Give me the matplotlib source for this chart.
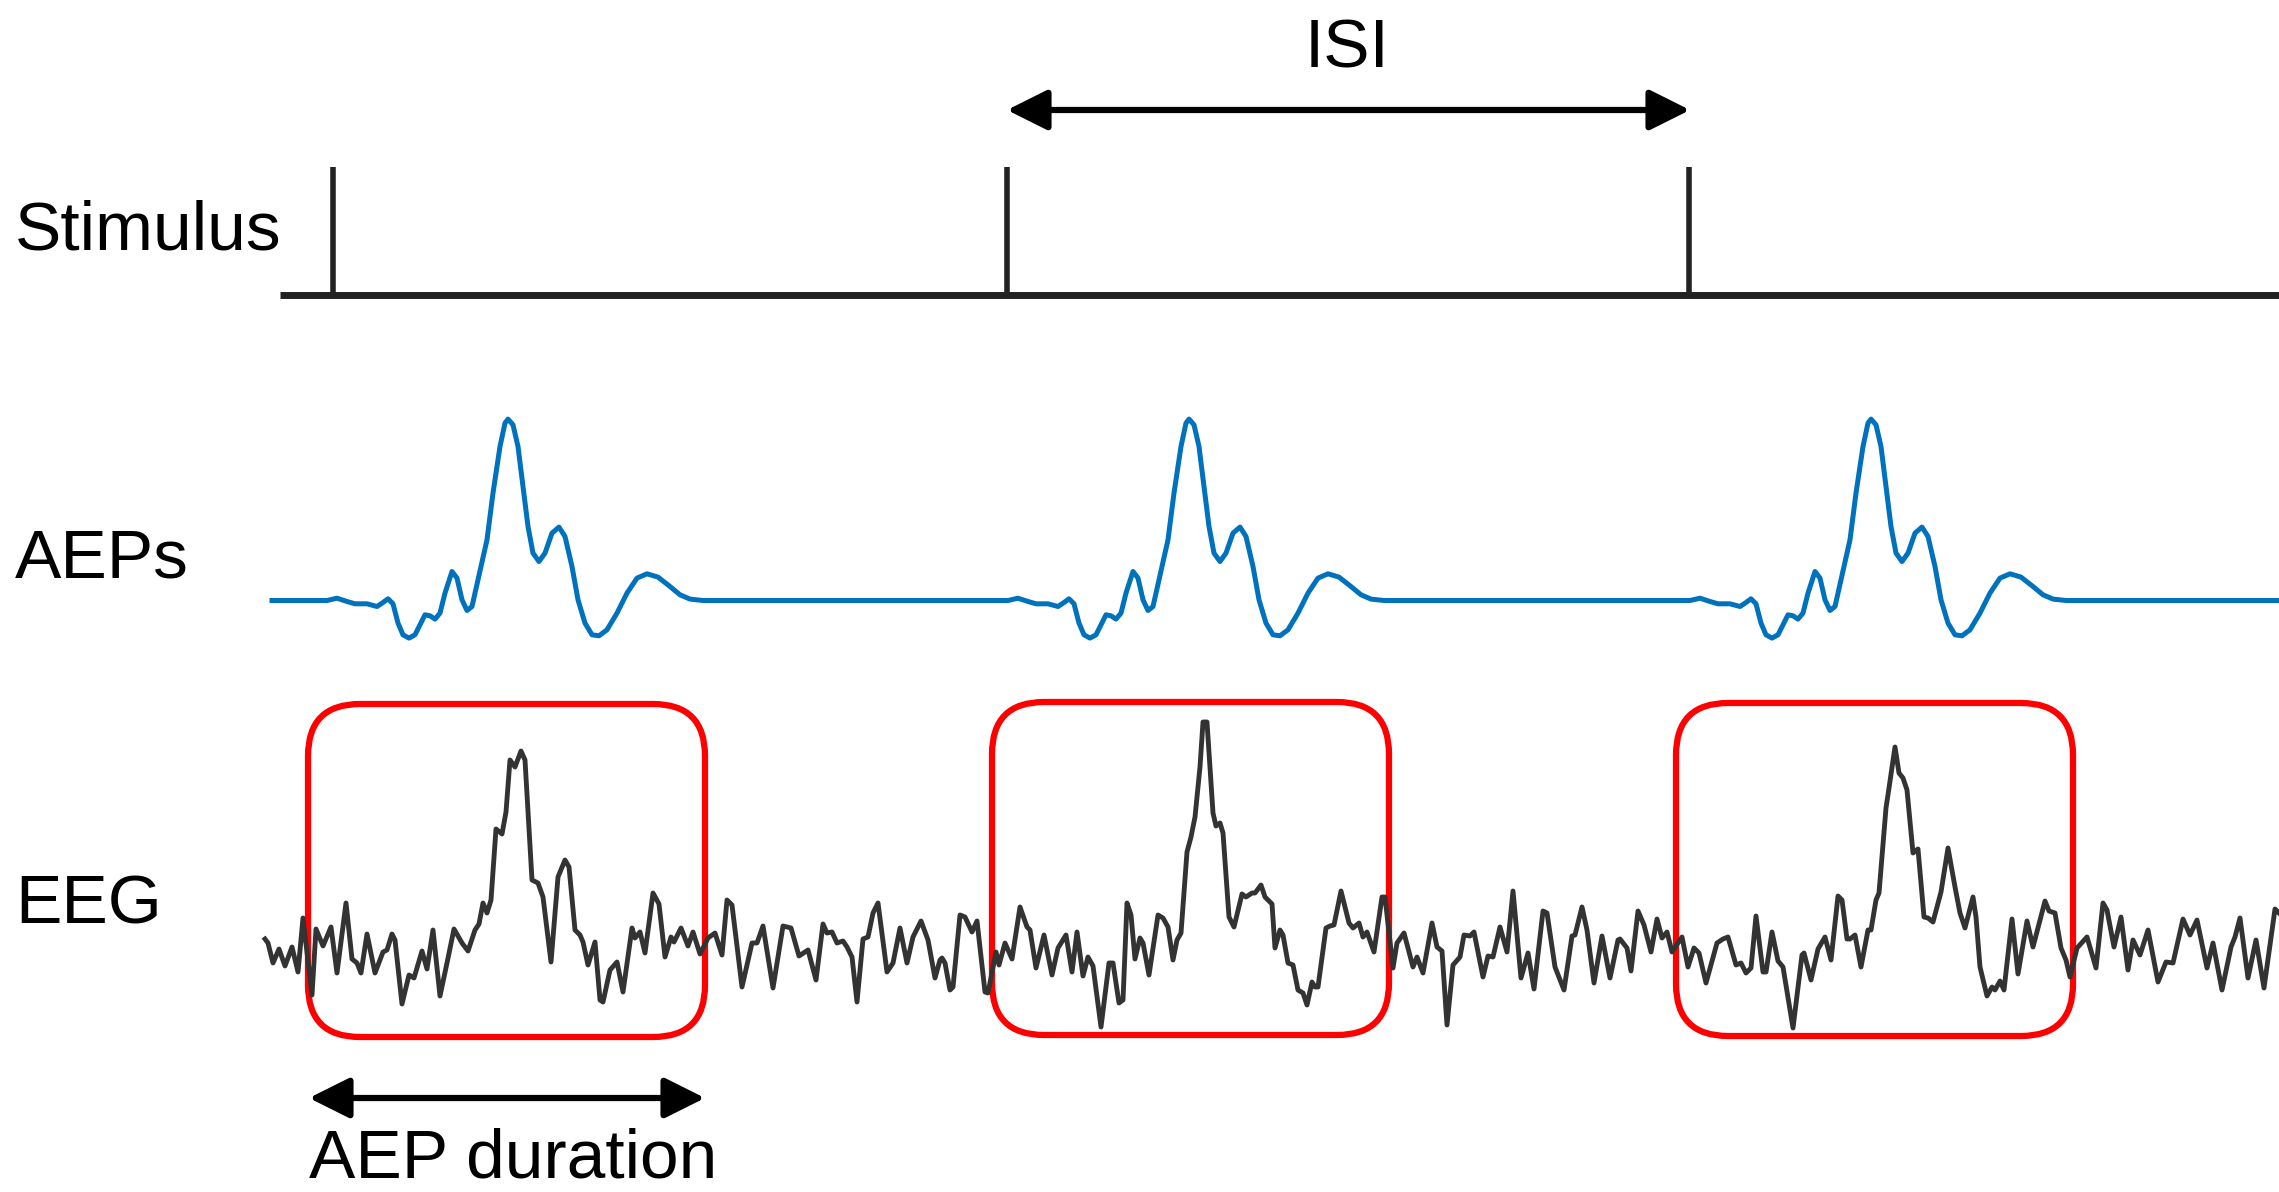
import numpy as np
import matplotlib.pyplot as plt
from matplotlib.patches import FancyBboxPatch, ArrowStyle

plt.rcParams['font.family'] = ['Liberation Sans', 'DejaVu Sans']

# canvas in pixel units, y grows downwards
W, H = 2279, 1192

row_labels = ['Stimulus', 'AEPs', 'EEG']
label_y = [250, 578, 924]

# stimulus onsets (px)
stim_times = [333, 1007, 1689]

# AEP template: time from onset (px) and amplitude (px, up positive)
aep_onsets = [333, 1014, 1696]
aep_t = [-6, 4, 14, 22, 34, 44, 50, 55, 60, 65, 70, 76, 82, 87, 92, 97, 102, 107,
         112, 119, 124, 129, 134, 139, 145, 154, 160, 167, 172, 175, 180, 185, 190,
         195, 200, 206, 212, 219, 226, 232, 239, 245, 252, 259, 266, 274, 284, 294,
         304, 314, 325, 337, 347, 357, 370]
aep_v = [0, 2.3, -1, -3.3, -3.3, -6, -2, 1.7, -3.3, -22.6, -34.3, -37.6, -34.3, -24.3,
         -14.3, -15.3, -18.6, -12.6, 7.4, 29, 22.4, 0.7, -10, -6, 20.7, 60.7, 107.4,
         154, 177.4, 181.4, 175.7, 154, 114, 74, 47.4, 39, 47.4, 67.4, 73.4, 64, 34,
         0.7, -22.6, -34.3, -35.3, -29.3, -12.6, 7.4, 22.4, 26.7, 23.4, 14, 5.7, 1.4, 0]

# EEG trace (px)
eeg_x = [265, 268, 273, 279, 285, 292, 298, 303, 312, 316, 323, 331, 337, 346, 352, 357,
         361, 367, 375, 383, 387, 392, 395, 402, 409, 414, 422, 427, 433, 440, 447, 454,
         462, 468, 475, 479, 483, 487, 491, 496, 502, 506, 510, 515, 521, 525, 532, 538,
         543, 551, 558, 565, 569, 575, 580, 583, 588, 595, 600,
         603, 610, 617, 623, 632, 635, 640, 645, 653, 659, 665, 671, 674, 681, 688, 693,
         700, 708, 715, 722, 727, 732, 742, 752, 757, 763, 773, 783, 791, 799, 808, 816,
         823, 827, 832, 837, 843, 847, 852, 857, 863, 868, 873, 878, 887, 893, 900, 907,
         913, 921, 928, 935, 940,
         942, 945, 950, 953, 960, 965, 972, 977, 985, 988, 996, 999, 1005, 1012, 1020,
         1027, 1030, 1036, 1044, 1052, 1058, 1066, 1072, 1077, 1083, 1088, 1093, 1101,
         1109, 1113, 1119, 1123, 1127, 1131, 1135, 1140, 1143, 1149, 1158, 1163, 1168,
         1173, 1177, 1181, 1187, 1191, 1195, 1200, 1203, 1207, 1210, 1213, 1216, 1220,
         1223, 1229, 1234, 1242, 1246, 1252, 1255, 1261, 1265, 1268, 1272, 1275, 1280,
         1283, 1288, 1293, 1298, 1303, 1307, 1312, 1315, 1318, 1326, 1330, 1334, 1341,
         1349, 1353, 1359, 1363, 1367, 1374, 1382, 1385, 1393, 1397, 1404, 1413, 1417,
         1423, 1432, 1437, 1442, 1447, 1453, 1460, 1464, 1470, 1474, 1483, 1488, 1493,
         1500, 1507, 1513, 1521, 1528, 1534, 1543, 1547, 1555, 1564, 1572, 1575, 1582,
         1587, 1594, 1602, 1610, 1618,
         1620, 1627, 1631, 1638, 1644, 1651, 1657, 1662, 1667, 1672, 1682, 1688, 1694,
         1699, 1706, 1717, 1723, 1728, 1736, 1741, 1746, 1751, 1756, 1763, 1766, 1772,
         1778, 1783, 1793, 1802, 1804, 1811, 1818, 1825, 1831, 1838, 1842, 1847, 1850,
         1855, 1861, 1868, 1871, 1876, 1879, 1886, 1889, 1895, 1899, 1903, 1907, 1913,
         1918, 1924, 1928, 1933, 1941, 1948, 1955, 1960,
         1965, 1973, 1976, 1980, 1987, 1992, 1995, 2000, 2004, 2012, 2018, 2027, 2033,
         2045, 2049, 2055, 2061, 2066, 2070, 2077, 2087, 2096, 2103, 2107, 2114, 2121,
         2128, 2133, 2140, 2148, 2158, 2166, 2173, 2183, 2190, 2197, 2207, 2213, 2222,
         2231, 2235, 2240, 2248, 2256, 2264, 2275, 2279]
eeg_y = [939, 943, 963, 949, 966, 947, 972, 918, 995, 929, 946, 927, 973, 903, 959, 963,
         973, 934, 973, 952, 950, 934, 940, 1004, 975, 978, 951, 969, 930, 996, 963, 929,
         943, 951, 930, 924, 903, 913, 900, 829, 834, 812, 760, 767, 751, 760, 880, 883,
         897, 962, 877, 860, 867, 930, 935, 942, 965, 942, 1000,
         1002, 970, 962, 992, 928, 938, 932, 953, 893, 904, 957, 937, 942, 928, 946, 932,
         954, 938, 933, 955, 900, 905, 987, 943, 943, 926, 988, 926, 928, 956, 950, 980,
         924, 933, 932, 943, 941, 947, 957, 1002, 939, 937, 913, 903, 972, 963, 928, 963,
         937, 921, 940, 978, 960,
         958, 963, 990, 987, 915, 917, 932, 921, 992, 993, 952, 965, 943, 959, 907,
         927, 930, 968, 935, 975, 948, 935, 972, 932, 976, 957, 966, 1027,
         963, 963, 1003, 1000, 903, 915, 959, 938, 943, 975, 915, 918, 927,
         960, 940, 933, 852, 837, 817, 767, 722, 722, 767, 813, 826, 823,
         833, 917, 927, 894, 897, 893, 893, 885, 897, 900, 904, 948, 930,
         935, 963, 965, 990, 993, 1005, 982, 987, 987, 928, 926, 925, 891,
         923, 928, 923, 937, 932, 952, 897, 897, 968, 943, 933, 967, 957,
         973, 923, 947, 951, 1025, 965, 957, 935, 936, 932, 977, 956, 957,
         927, 952, 891, 978, 953, 989, 911, 913, 967, 990, 936, 935, 907,
         930, 983, 936, 978, 940,
         939, 948, 971, 911, 925, 952, 919, 938, 932, 952, 937, 967, 948,
         953, 983, 943, 939, 937, 965, 963, 973, 968, 916, 972, 972, 932,
         961, 967, 1028, 955, 953, 980, 949, 937, 960, 896, 900, 939, 939,
         935, 967, 930, 930, 900, 893, 808, 788, 747, 773, 778, 790, 853,
         849, 917, 918, 922, 892, 848, 887, 913,
         928, 897, 917, 967, 996, 987, 990, 981, 990, 919, 974, 921, 947,
         901, 911, 913, 948, 960, 977, 948, 937, 968, 903, 910, 947, 917,
         970, 940, 955, 930, 982, 962, 963, 919, 935, 920, 968, 943, 990,
         947, 937, 918, 978, 940, 988, 909, 913]

fig = plt.figure(figsize=(W / 100, H / 100), dpi=100)
ax = fig.add_axes([0, 0, 1, 1])
ax.set_xlim(0, W)
ax.set_ylim(H, 0)
ax.axis('off')

# stimulus row
ax.plot([280, W], [295, 295], color='#222222', lw=5, solid_capstyle='butt')
ax.vlines(stim_times, 167, 295, color='#222222', lw=4)

# AEP row: flat baseline with the template at every onset
ax_x = [272]
ax_y = [0]
for on in aep_onsets:
    ax_x += [on + t for t in aep_t]
    ax_y += aep_v
ax_x.append(W)
ax_y.append(0)
aep_base = 600.5
ax.plot(ax_x, aep_base - np.array(ax_y), color='#0072BD', lw=3.6,
        solid_joinstyle='round')

# red rounded boxes round each response
for bx, by in zip([308, 992, 1676], [704, 702, 703]):
    ax.add_patch(FancyBboxPatch((bx, by), 397, 333,
                                boxstyle='round,pad=0,rounding_size=52',
                                fill=False, ec='#FF0000', lw=4.5, zorder=2))

# EEG row
ax.plot(eeg_x, eeg_y, color='#333333', lw=3.5, solid_joinstyle='round', zorder=3)

# arrows
arr = ArrowStyle('<|-|>', head_length=0.4, head_width=0.2)
for (x0, x1, y) in [(1007, 1690, 110), (309, 705, 1098)]:
    ax.annotate('', xy=(x1, y), xytext=(x0, y),
                arrowprops=dict(arrowstyle=arr, mutation_scale=62, lw=4.5,
                                color='black', shrinkA=0, shrinkB=0))

# labels
for lab, ly in zip(row_labels, label_y):
    ax.text(15, ly, lab, fontsize=50, va='baseline', ha='left')
ax.text(1347, 67, 'ISI', fontsize=50, va='baseline', ha='center')
ax.text(513, 1177, 'AEP duration', fontsize=50, va='baseline', ha='center')

fig.savefig('out.png', dpi=100)
